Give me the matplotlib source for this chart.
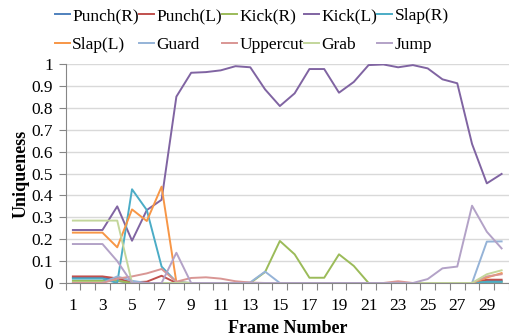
import matplotlib
matplotlib.use("Agg")
import matplotlib.pyplot as plt
import numpy as np

plt.rcParams['font.family'] = ['Liberation Serif', 'DejaVu Serif']

frames = list(range(1, 31))

punch_r = [0.025, 0.025, 0.025, 0.01, 0, 0, 0, 0, 0, 0, 0, 0, 0, 0, 0,
           0, 0, 0, 0, 0, 0, 0, 0, 0, 0, 0, 0, 0, 0.01, 0.01]
punch_l = [0.03, 0.03, 0.03, 0.021, 0.003, 0.006, 0.033, 0, 0, 0, 0, 0, 0, 0, 0,
           0, 0, 0, 0, 0, 0, 0, 0, 0, 0, 0, 0, 0, 0.015, 0.015]
kick_r = [0.01, 0.01, 0.01, 0.01, 0, 0, 0, 0, 0, 0, 0, 0, 0, 0.05, 0.192,
          0.131, 0.024, 0.024, 0.131, 0.078, 0, 0, 0, 0, 0, 0, 0, 0, 0.005, 0.005]
kick_l = [0.242, 0.242, 0.242, 0.35, 0.193, 0.333, 0.38, 0.851, 0.96, 0.963,
          0.971, 0.99, 0.985, 0.884, 0.808, 0.866, 0.977, 0.977, 0.869, 0.918,
          0.995, 0.998, 0.985, 0.995, 0.98, 0.93, 0.912, 0.635, 0.455, 0.498]
slap_r = [0.02, 0.02, 0.02, 0.0, 0.428, 0.333, 0.075, 0.005, 0, 0, 0, 0, 0, 0, 0,
          0, 0, 0, 0, 0, 0, 0, 0, 0, 0, 0, 0, 0, 0.005, 0.005]
slap_l = [0.23, 0.23, 0.23, 0.163, 0.336, 0.283, 0.44, 0.003, 0, 0, 0, 0, 0, 0, 0,
          0, 0, 0, 0, 0, 0, 0, 0, 0, 0, 0, 0, 0, 0.025, 0.045]
guard = [0, 0, 0, 0.03, 0.01, 0, 0, 0, 0, 0, 0, 0, 0.003, 0.052, 0,
         0, 0, 0, 0, 0, 0, 0, 0, 0, 0, 0, 0, 0, 0.189, 0.19]
uppercut = [0, 0, 0, 0.02, 0.03, 0.044, 0.064, 0.006, 0.023, 0.026, 0.02, 0.008,
            0.002, 0, 0, 0, 0, 0, 0, 0, 0, 0, 0.008, 0, 0, 0, 0, 0, 0.03, 0.04]
grab = [0.285, 0.285, 0.285, 0.285, 0, 0, 0, 0, 0, 0, 0, 0, 0, 0, 0,
        0, 0, 0, 0, 0, 0, 0, 0, 0, 0, 0, 0, 0, 0.04, 0.058]
jump = [0.178, 0.178, 0.178, 0.1, 0, 0, 0, 0.138, 0, 0, 0, 0, 0, 0, 0,
        0, 0, 0, 0, 0, 0, 0, 0, 0, 0.018, 0.067, 0.075, 0.353, 0.234, 0.158]

labels = ['Punch(R)', 'Punch(L)', 'Kick(R)', 'Kick(L)', 'Slap(R)',
          'Slap(L)', 'Guard', 'Uppercut', 'Grab', 'Jump']
series = [punch_r, punch_l, kick_r, kick_l, slap_r,
          slap_l, guard, uppercut, grab, jump]
colors = ['#4F81BD', '#C0504D', '#9BBB59', '#8064A2', '#4BACC6',
          '#F79646', '#95B3D7', '#D99694', '#C3D69B', '#B3A2C7']

fig = plt.figure(figsize=(5.09, 3.36), dpi=100)
ax = fig.add_axes([65.5 / 509, 53 / 336, 443.5 / 509, 219 / 336])

handles = []
for vals, lab, col in zip(series, labels, colors):
    h, = ax.plot(frames, vals, color=col, lw=1.4, label=lab)
    handles.append(h)

ax.set_xlim(0.5, 30.07)
ax.set_ylim(0, 1)
ax.set_yticks(np.arange(0, 1.01, 0.1))
ax.set_yticklabels(['0', '0.1', '0.2', '0.3', '0.4', '0.5', '0.6', '0.7', '0.8', '0.9', '1'])
ax.set_xticks(range(1, 30, 2))
ax.set_xticks(np.arange(0.5, 30.6, 1), minor=True)
ax.tick_params(axis='x', which='major', length=0, labelsize=12.5, pad=11)
ax.tick_params(axis='x', which='minor', length=5, color='#868686', width=0.8)
ax.tick_params(axis='y', length=5, color='#868686', width=0.8, labelsize=12.5, pad=4)
ax.grid(axis='y', color='#D9D9D9', lw=1)
ax.set_axisbelow(True)
for s in ['top', 'right']:
    ax.spines[s].set_visible(False)
for s in ['left', 'bottom']:
    ax.spines[s].set_color('#868686')
    ax.spines[s].set_linewidth(0.8)

ax.set_xlabel('Frame Number', fontsize=13, fontweight='bold', labelpad=4)
ax.set_ylabel('Uniqueness', fontsize=13, fontweight='bold', labelpad=1)

order = [0, 5, 1, 6, 2, 7, 3, 8, 4, 9]
fig.legend([handles[i] for i in order], [labels[i] for i in order],
           ncol=5, loc='upper left', bbox_to_anchor=(55 / 509, 1 - 8 / 336),
           frameon=False, fontsize=12.5, handlelength=0.85, handletextpad=0.15,
           columnspacing=0.0, labelspacing=0.75, borderpad=0, borderaxespad=0)

fig.savefig('out.png', dpi=100)
